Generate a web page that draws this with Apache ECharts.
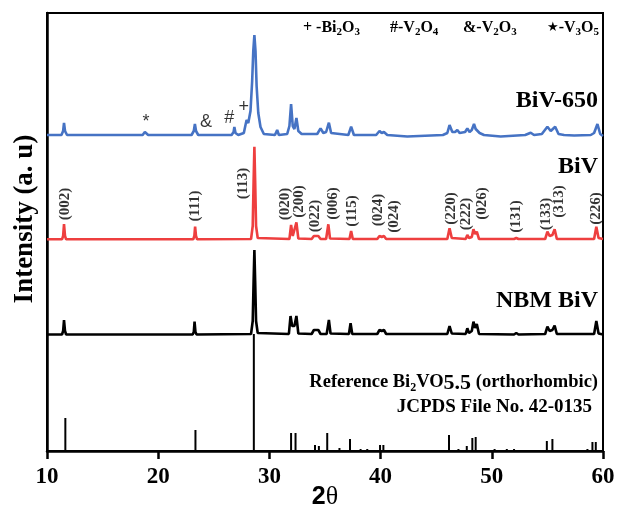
<!DOCTYPE html>
<html>
<head>
<meta charset="utf-8">
<script src="https://cdn.jsdelivr.net/npm/echarts@6/dist/echarts.min.js"></script>
<style>html,body{margin:0;padding:0;background:#fff}#c{width:618px;height:508px}</style>
</head>
<body>
<div id="c"></div>
<script>
// ---- data (2θ in degrees, intensity in arbitrary offset units) ----
const xTicks = [10, 20, 30, 40, 50, 60];

const biv650 = [[10.0,316],[11.3,316],[11.45,320],[11.53,328],[11.62,320],[11.8,316],
 [18.6,316],[18.8,319],[18.95,318],[19.1,316],
 [23.0,316],[23.2,320],[23.3,327],[23.4,320],[23.6,316],
 [24.2,316],[24.3,318],[24.45,316],
 [26.6,316],[26.78,319],[26.85,324],[26.95,318],[27.2,316],
 [27.7,318],[27.85,326],[27.95,331],[28.1,328],[28.3,340],[28.45,370],[28.55,400],[28.65,416],[28.75,400],[28.85,365],[29.0,338],[29.2,324],[29.5,317],
 [30.5,316],[30.7,321],[30.85,316],
 [31.6,317],[31.8,325],[31.95,347],[32.1,325],[32.25,322],[32.43,333],[32.6,320],[32.9,317],
 [34.3,317],[34.6,322.7],[34.85,318],[35.1,319],[35.35,328.3],[35.55,318],
 [37.1,316],[37.35,324.3],[37.6,316],
 [39.6,316],[39.9,320],[40.1,318],[40.3,319],[40.6,316],
 [42.4,314.5],[45.6,316],[46.0,318],[46.2,326],[46.45,319],[46.7,319],[46.9,321],[47.1,318],
 [47.6,319],[47.8,322.7],[48.0,319],[48.2,321],[48.4,327],[48.55,322],[48.7,323.7],[48.9,318],[49.3,316],
 [50.8,314.5],[53.0,316],[53.5,318.3],[53.8,316],[54.5,317],[55.0,324.3],[55.3,320],[55.7,324.3],[56.0,317],[56.5,316],
 [57.4,315.5],[58.9,316],[59.2,318],[59.5,327],[59.75,317],[60,315]];

const biv = [[10,211.7],[11.35,211.7],[11.45,215],[11.53,227],[11.62,215],[11.72,211.7],
 [23.15,211.7],[23.25,215],[23.32,224.3],[23.4,215],[23.5,211.7],
 [28.35,212],[28.5,225],[28.58,270],[28.65,304.3],[28.72,270],[28.8,225],[28.95,213],
 [31.8,212],[31.95,226],[32.1,215],[32.25,216],[32.43,228.7],[32.6,212.5],
 [33.8,212],[34.0,215],[34.15,213],[34.4,215],[34.6,212],
 [35.1,212],[35.3,226.7],[35.45,212.5],
 [37.2,212],[37.35,220],[37.5,212],
 [39.7,212],[39.9,215],[40.1,214],[40.3,215],[40.5,212],
 [46.0,212],[46.2,222.7],[46.4,213],
 [47.65,212],[47.8,216],[47.95,213],[48.2,214],[48.35,221.7],[48.5,217],[48.65,219.3],[48.85,212],
 [52.0,212],[52.2,213],[52.4,212],
 [54.8,212],[55.0,219.3],[55.2,215],[55.45,216],[55.65,221.7],[55.85,212],
 [59.2,212],[59.4,224.3],[59.6,213],[60,212]];

const nbmBiv = [[10,116.5],[11.35,116.5],[11.45,120],[11.53,131],[11.62,120],[11.72,116.5],
 [23.1,116.5],[23.2,119],[23.27,129.3],[23.35,119],[23.45,116.5],
 [28.35,117],[28.5,130],[28.58,170],[28.65,201],[28.72,170],[28.8,130],[28.95,118],
 [31.75,117],[31.9,135],[32.05,125],[32.25,125],[32.43,135],[32.6,117.5],
 [33.8,117],[34.0,121],[34.15,119],[34.4,121],[34.6,117],
 [35.15,117],[35.35,131],[35.5,117.5],
 [37.15,117],[37.3,127.7],[37.45,117],
 [39.7,117],[39.9,121],[40.1,120],[40.3,121],[40.5,117],
 [46.0,117],[46.2,125],[46.4,117.5],
 [47.65,117],[47.8,122.7],[47.95,118],[48.2,120],[48.35,129.3],[48.5,123],[48.65,127],[48.85,117],
 [52.0,116.5],[52.2,118],[52.4,116.5],
 [54.8,117],[55.0,124.3],[55.2,120],[55.45,121],[55.65,125.3],[55.85,117],
 [59.2,117],[59.4,130],[59.6,117.5],[60,116.5]];

// JCPDS 42-0135 reference lines
const refPos = [11.65,23.35,28.6,31.95,32.35,34.1,34.45,35.2,36.3,37.25,38.2,38.8,39.95,40.25,46.15,47.0,47.75,48.25,48.55,50.25,51.35,52.0,54.95,55.45,58.6,59.05,59.35];
const refInt = [33,21,117,18,18,6,5,18,3,12,2,2,6,6,16,2,5,13,14,2,2,2,10,12,2,9,9];

// Miller indices labelled on the BiV pattern
const millerText = ['(002)','(111)','(113)','(020)','(200)','(022)','(006)','(115)','(024)','(024)','(220)','(222)','(026)','(131)','(133)','(313)','(226)'];
const millerX = [11.62,23.33,27.66,31.44,32.7,34.14,35.77,37.45,39.82,41.26,46.31,47.66,49.16,52.16,54.86,56.04,59.37];
const millerY = [247,245,267.5,247,249.5,235,247.5,240,241,234.5,242.5,237,247.5,234.5,237,249.5,242.5];

// impurity phase markers on BiV-650
const phaseMark = ['*','&','#','+'];
const phaseX = [18.9,24.3,26.4,27.7];
const phaseY = [329,329,332.7,343.7];

// ---- chart ----
const serif = 'Liberation Serif';
const chart = echarts.init(document.getElementById('c'));
const lineSeries = (name, data, color) => ({
  name, type: 'line', data, showSymbol: false, symbol: 'none',
  lineStyle: { color, width: 2.6 }, z: 3, animation: false
});
const sub = (fs, lh) => ({ fontFamily: serif, fontWeight: 'bold', fontSize: fs, lineHeight: lh, verticalAlign: 'bottom', fill: '#000' });

chart.setOption({
  animation: false,
  backgroundColor: '#fff',
  grid: { left: 47, right: 15, top: 13, bottom: 57, show: true, borderColor: '#000', borderWidth: 2,
    containLabel: false, outerBoundsMode: 'none' },
  xAxis: {
    type: 'value', min: 10, max: 60, interval: 10,
    axisLine: { show: true, lineStyle: { color: '#000', width: 2.5 } },
    axisTick: { show: true, length: 8, lineStyle: { color: '#000', width: 2.5 } },
    axisLabel: { color: '#000', fontFamily: serif, fontWeight: 'bold', fontSize: 23, margin: 15,
      formatter: v => xTicks.indexOf(v) >= 0 ? String(v) : '' },
    splitLine: { show: false },
    name: '{a|2}{b|θ}', nameLocation: 'middle', nameGap: 33, nameMoveOverlap: false,
    nameTextStyle: { rich: {
      a: { fontFamily: 'Liberation Sans', fontWeight: 'bold', fontSize: 25, color: '#000' },
      b: { fontFamily: serif, fontSize: 26, color: '#000' } } }
  },
  yAxis: {
    type: 'value', min: 0, max: 438,
    axisLine: { show: true, lineStyle: { color: '#000', width: 2.5 } },
    axisTick: { show: false }, axisLabel: { show: false }, splitLine: { show: false }
  },
  series: [
    { name: 'Reference', type: 'bar', data: refPos.map((x, i) => [x, refInt[i]]),
      barWidth: 2, itemStyle: { color: '#000' }, z: 2 },
    lineSeries('NBM BiV', nbmBiv, '#000000'),
    lineSeries('BiV', biv, '#ee3f3f'),
    lineSeries('BiV-650', biv650, '#4673c4'),
    { type: 'scatter', symbolSize: 0, z: 5, silent: true,
      data: millerX.map((x, i) => [x, millerY[i]]),
      label: { show: true, position: 'inside', rotate: 90, color: '#000',
        fontFamily: serif, fontWeight: 'bold', fontSize: 15,
        formatter: p => millerText[p.dataIndex] } },
    { type: 'scatter', symbolSize: 0, z: 5, silent: true,
      data: phaseX.map((x, i) => [x, phaseY[i]]),
      label: { show: true, position: 'inside', color: '#000',
        fontFamily: 'Liberation Sans', fontSize: 18,
        formatter: p => phaseMark[p.dataIndex] } }
  ],
  graphic: [
    { type: 'text', x: 25, y: 219, rotation: Math.PI / 2, style: { text: 'Intensity (a. u)', font: 'bold 27px "Liberation Serif"', fill: '#000', textAlign: 'center', textVerticalAlign: 'middle' } },
    { type: 'text', left: 303, top: 18, style: { text: '+ -Bi{s|2}O{s|3}', font: 'bold 16px "Liberation Serif"', lineHeight: 20, fill: '#000', rich: { s: sub(11, 11) } } },
    { type: 'text', left: 390, top: 18, style: { text: '#-V{s|2}O{s|4}', font: 'bold 16px "Liberation Serif"', lineHeight: 20, fill: '#000', rich: { s: sub(11, 11) } } },
    { type: 'text', left: 463, top: 18, style: { text: '&-V{s|2}O{s|3}', font: 'bold 16px "Liberation Serif"', lineHeight: 20, fill: '#000', rich: { s: sub(11, 11) } } },
    { type: 'text', left: 547, top: 18, style: { text: '{k|★}-V{s|3}O{s|5}', font: 'bold 16px "Liberation Serif"', lineHeight: 20, fill: '#000', rich: { s: sub(11, 11), k: { fontFamily: 'DejaVu Sans', fontSize: 13, fill: '#000' } } } },
    { type: 'text', right: 20, top: 89, style: { text: 'BiV-650', font: 'bold 24px "Liberation Serif"', fill: '#000' } },
    { type: 'text', right: 20, top: 155, style: { text: 'BiV', font: 'bold 24px "Liberation Serif"', fill: '#000' } },
    { type: 'text', right: 20, top: 289, style: { text: 'NBM BiV', font: 'bold 24px "Liberation Serif"', fill: '#000' } },
    { type: 'text', right: 20, top: 370, style: { text: 'Reference Bi{s|2}VO{b|5.5} (orthorhombic)', font: 'bold 18.5px "Liberation Serif"', lineHeight: 24, fill: '#000', rich: { s: sub(12, 14), b: sub(22, 22) } } },
    { type: 'text', right: 26, top: 398, style: { text: 'JCPDS File No. 42-0135', font: 'bold 19px "Liberation Serif"', fill: '#000' } }
  ]
});
</script>
</body>
</html>
